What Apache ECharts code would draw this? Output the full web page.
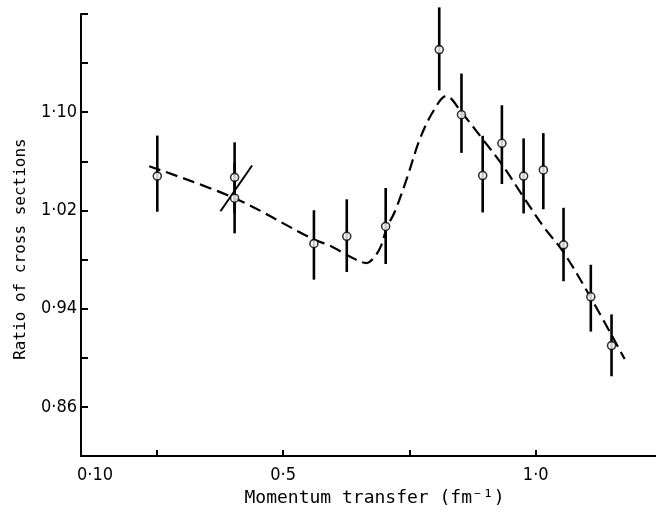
<!DOCTYPE html>
<html><head><meta charset="utf-8">
<script src="https://cdn.jsdelivr.net/npm/echarts@6/dist/echarts.min.js"></script>
<style>html,body{margin:0;padding:0;background:#fff}#c{width:656px;height:512px}</style>
</head><body><div id="c"></div>
<script>
// Data points (momentum transfer, ratio) with error bar limits
const pointX = [0.251, 0.404, 0.404, 0.561, 0.626, 0.703, 0.809, 0.853, 0.895, 0.933, 0.976, 1.015, 1.055, 1.109, 1.150];
const pointY = [1.048, 1.047, 1.030, 0.993, 0.999, 1.007, 1.151, 1.098, 1.0485, 1.0747, 1.048, 1.053, 0.992, 0.9497, 0.910];
const errLow = [1.019, 1.018, 1.0014, 0.9637, 0.9699, 0.9764, 1.1178, 1.0669, 1.0184, 1.0416, 1.0176, 1.021, 0.9624, 0.9214, 0.885];
const errHigh = [1.081, 1.0755, 1.059, 1.0202, 1.0291, 1.0383, 1.1854, 1.1315, 1.0808, 1.1057, 1.0787, 1.083, 1.0222, 0.9758, 0.9354];
// Dashed fitted curve
const curveX = [0.235, 0.404, 0.556, 0.5958, 0.632, 0.665, 0.6815, 0.6947, 0.7046, 0.721, 0.7448, 0.7705, 0.796, 0.823, 0.853, 0.895, 0.935, 0.974, 1.0177, 1.0535, 1.109, 1.176];
const curveY = [1.056, 1.030, 0.9974, 0.9907, 0.9826, 0.9772, 0.9826, 0.992, 1.0055, 1.019, 1.0459, 1.078, 1.100, 1.1132, 1.100, 1.078, 1.0564, 1.032, 1.0055, 0.9869, 0.9489, 0.899];
// Short slanted solid segment near q = 0.4
const slashX = [0.376, 0.4386];
const slashY = [1.0194, 1.0566];
// Axis ticks and labels
const xTicks = [0.25, 0.5, 0.75, 1.0];
const xLabels = [0.1, 0.5, 1.0];
const yTicks = [0.86, 0.90, 0.94, 0.98, 1.02, 1.06, 1.10, 1.14, 1.18];
const yLabels = [0.86, 0.94, 1.02, 1.10];

const fmtX = v => v < 0.2 ? '{p|0·10}' : v.toFixed(1).replace('.', '·');
const fmtY = v => v.toFixed(2).replace('.', '·');

const chart = echarts.init(document.getElementById('c'));
chart.setOption({
  animation: false,
  grid: {left: 81, right: 0, top: 14, bottom: 52},
  xAxis: {
    type: 'value', min: 0.1, max: 1.238,
    name: 'Momentum transfer (fm⁻¹)', nameLocation: 'middle', nameGap: 32,
    nameTextStyle: {fontFamily: 'DejaVu Sans Mono', fontSize: 18, color: '#000', padding: [0, 0, 0, 12]},
    axisLine: {lineStyle: {color: '#000', width: 2}},
    axisTick: {inside: true, length: 6, customValues: xTicks, lineStyle: {color: '#000', width: 2}},
    axisLabel: {customValues: xLabels, formatter: fmtX, margin: 10, fontFamily: 'DejaVu Sans Condensed, DejaVu Sans', fontSize: 18, color: '#000',
      rich: {p: {padding: [0, 0, 0, 28], fontFamily: 'DejaVu Sans Condensed, DejaVu Sans', fontSize: 18, color: '#000'}}},
    splitLine: {show: false}
  },
  yAxis: {
    type: 'value', min: 0.82, max: 1.18,
    name: 'Ratio of cross sections', nameLocation: 'middle', nameGap: 52,
    nameTextStyle: {fontFamily: 'DejaVu Sans Mono', fontSize: 16, color: '#000', padding: [0, 28, 0, 0]},
    axisLine: {lineStyle: {color: '#000', width: 2}},
    axisTick: {inside: true, length: 7, customValues: yTicks, lineStyle: {color: '#000', width: 2}},
    axisLabel: {customValues: yLabels, formatter: fmtY, margin: 4, fontFamily: 'DejaVu Sans Condensed, DejaVu Sans', fontSize: 18, color: '#000'},
    splitLine: {show: false}
  },
  series: [
    {
      type: 'line', data: curveX.map((x, i) => [x, curveY[i]]), smooth: 0.35, symbol: 'none',
      lineStyle: {color: '#000', width: 2.2, type: [12, 6]}, z: 2
    },
    {
      type: 'line', data: slashX.map((x, i) => [x, slashY[i]]), symbol: 'none',
      lineStyle: {color: '#000', width: 2}, z: 2
    },
    {
      type: 'custom', clip: false, z: 3,
      data: pointX.map((x, i) => [x, errLow[i], errHigh[i]]),
      renderItem: (params, api) => {
        const lo = api.coord([api.value(0), api.value(1)]);
        const hi = api.coord([api.value(0), api.value(2)]);
        return {type: 'line', shape: {x1: lo[0], y1: lo[1], x2: hi[0], y2: hi[1]}, style: {stroke: '#000', lineWidth: 2.6}};
      }
    },
    {
      type: 'scatter', data: pointX.map((x, i) => [x, pointY[i]]), symbol: 'circle', symbolSize: 8,
      itemStyle: {color: '#fff', borderColor: '#000', borderWidth: 1.6}, z: 4
    }
  ]
});
</script></body></html>
